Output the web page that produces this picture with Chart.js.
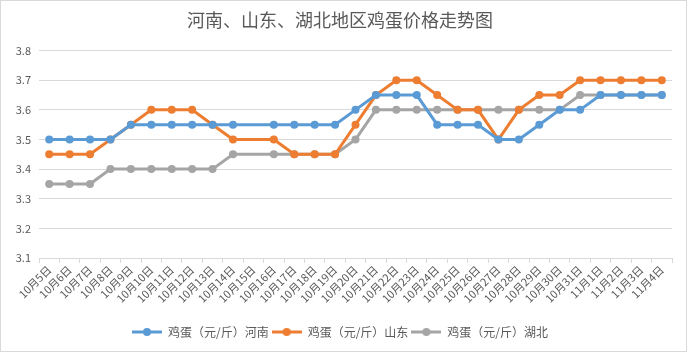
<!DOCTYPE html>
<html>
<head>
<meta charset="utf-8">
<script src="https://cdn.jsdelivr.net/npm/chart.js@4/dist/chart.umd.min.js"></script>
<style>
html,body{margin:0;padding:0;background:#fff;}
#wrap{width:687px;height:352px;position:relative;}
</style>
</head>
<body>
<div id="wrap"><canvas id="c" width="687" height="352"></canvas></div>
<script>
const categories = ["10月5日","10月6日","10月7日","10月8日","10月9日","10月10日","10月11日","10月12日","10月13日","10月14日","10月15日","10月16日","10月17日","10月18日","10月19日","10月20日","10月21日","10月22日","10月23日","10月24日","10月25日","10月26日","10月27日","10月28日","10月29日","10月30日","10月31日","11月1日","11月2日","11月3日","11月4日"];
const henan = [3.5,3.5,3.5,3.5,3.55,3.55,3.55,3.55,3.55,3.55,null,3.55,3.55,3.55,3.55,3.6,3.65,3.65,3.65,3.55,3.55,3.55,3.5,3.5,3.55,3.6,3.6,3.65,3.65,3.65,3.65];
const shandong = [3.45,3.45,3.45,3.5,3.55,3.6,3.6,3.6,3.55,3.5,null,3.5,3.45,3.45,3.45,3.55,3.65,3.7,3.7,3.65,3.6,3.6,3.5,3.6,3.65,3.65,3.7,3.7,3.7,3.7,3.7];
const hubei = [3.35,3.35,3.35,3.4,3.4,3.4,3.4,3.4,3.4,3.45,null,3.45,3.45,3.45,3.45,3.5,3.6,3.6,3.6,3.6,3.6,3.6,3.6,3.6,3.6,3.6,3.65,3.65,3.65,3.65,3.65];
const seriesNames = ["鸡蛋（元/斤）河南","鸡蛋（元/斤）山东","鸡蛋（元/斤）湖北"];
const titleText = "河南、山东、湖北地区鸡蛋价格走势图";
const yMin = 3.1, yMax = 3.8, yStep = 0.1;

const colors = ["#5B9BD5","#ED7D31","#A5A5A5"];
const FONT = "'Noto Sans CJK SC', 'Noto Sans', sans-serif";

function legendIcon(color){
  const cv = document.createElement('canvas');
  cv.width = 30; cv.height = 10;
  const g = cv.getContext('2d');
  g.strokeStyle = color; g.lineWidth = 3;
  g.beginPath(); g.moveTo(0,5); g.lineTo(30,5); g.stroke();
  g.fillStyle = color;
  g.beginPath(); g.arc(15,5,4,0,Math.PI*2); g.fill();
  return cv;
}

const borderPlugin = {
  id:'border',
  beforeDraw(chart){
    const ctx = chart.ctx;
    ctx.save();
    ctx.fillStyle = '#fff';
    ctx.fillRect(0,0,chart.width,chart.height);
    ctx.strokeStyle = '#D9D9D9';
    ctx.lineWidth = 1;
    ctx.strokeRect(0.5,0.5,chart.width-1,chart.height-1);
    ctx.restore();
  }
};

const data = [henan, shandong, hubei];
new Chart(document.getElementById('c'), {
  type:'line',
  data:{
    labels: categories,
    datasets: data.map((d,i)=>({
      label: seriesNames[i],
      data: d,
      borderColor: colors[i],
      backgroundColor: colors[i],
      borderWidth: 3,
      pointRadius: 4,
      pointBorderWidth: 0,
      pointBackgroundColor: colors[i],
      pointStyle: 'circle',
      spanGaps: true,
      tension: 0,
      fill: false
    }))
  },
  options:{
    responsive:false,
    animation:false,
    devicePixelRatio:1,
    layout:{padding:{left:8,right:15,top:0,bottom:4}},
    plugins:{
      title:{display:true,text:titleText,color:'#595959',font:{family:FONT,size:18,weight:'normal'},padding:{top:9,bottom:20}},
      legend:{
        position:'bottom',
        labels:{
          usePointStyle:true,
          pointStyleWidth:30,
          boxHeight:10,
          padding:3,
          color:'#595959',
          font:{family:FONT,size:12},
          generateLabels(chart){
            return chart.data.datasets.map((ds,i)=>({
              text: ds.label,
              fillStyle: ds.borderColor,
              strokeStyle: ds.borderColor,
              lineWidth:0,
              pointStyle: legendIcon(ds.borderColor),
              datasetIndex:i,
              hidden:false,
              fontColor:'#595959'
            }));
          }
        }
      },
      tooltip:{enabled:false}
    },
    scales:{
      x:{
        offset:true,
        grid:{display:true,offset:true,drawOnChartArea:false,drawTicks:true,tickLength:5,color:'#D9D9D9'},
        border:{display:true,color:'#D9D9D9'},
        ticks:{color:'#595959',font:{family:FONT,size:11},minRotation:45,maxRotation:45,autoSkip:false,padding:0},
        afterFit(s){ s.height = 65; }
      },
      y:{
        min:yMin,max:yMax,
        grid:{color:'#D9D9D9',drawTicks:false},
        border:{display:false},
        ticks:{stepSize:yStep,color:'#595959',font:{family:FONT,size:11},padding:8,callback:v=>Number(v).toFixed(1)},
        afterFit(s){ s.width = 31; }
      }
    }
  },
  plugins:[borderPlugin]
});
</script>
</body>
</html>
